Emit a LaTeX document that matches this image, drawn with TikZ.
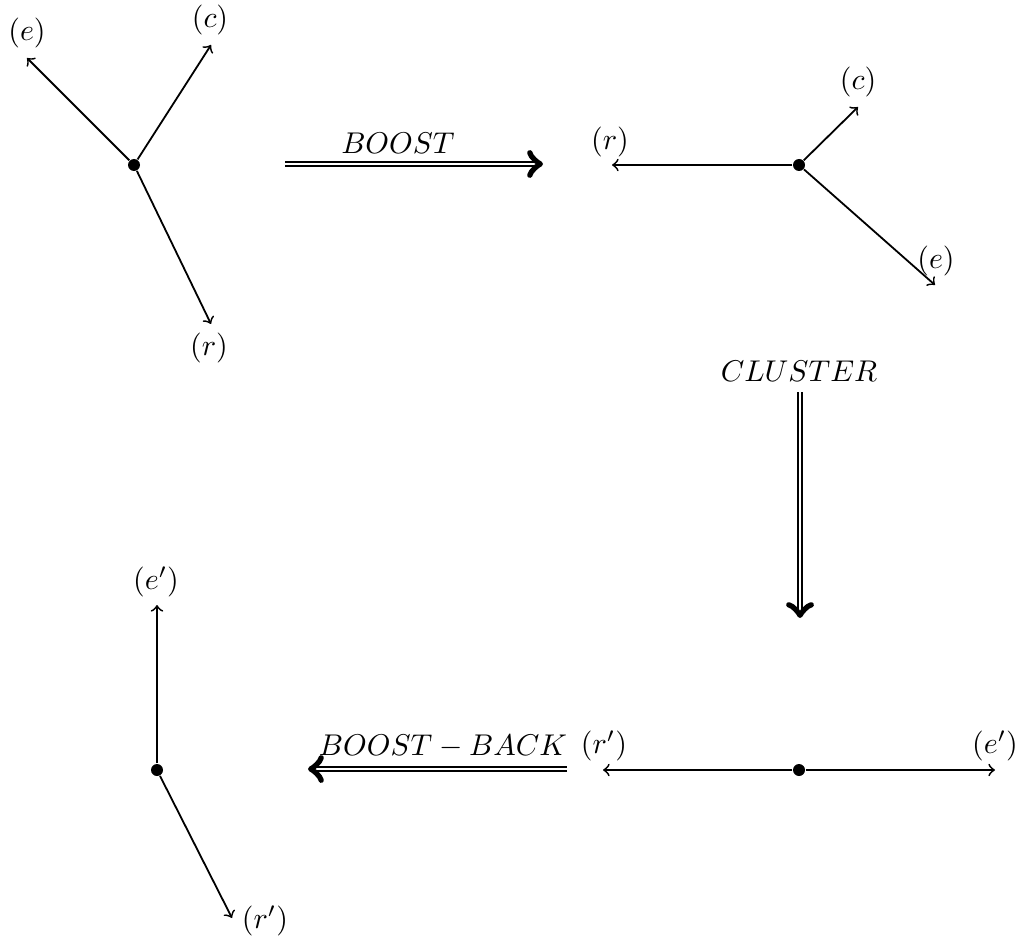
\documentclass[tikz,border=0pt]{standalone}
\begin{document}
\begin{tikzpicture}[x=0.011712cm, y=-0.011712cm,
  vertex/.style={circle, fill=black, inner sep=0pt, minimum size=4pt},
  leg/.style={->, semithick},
  move/.style={double, thick, ->},
  lbl/.style={inner sep=0pt}]
\useasboundingbox (0,0) rectangle (1022,939);

% initial three-leg configuration
\node[vertex] (A) at (134,165) {};
\coordinate (Ae) at (27,58);
\coordinate (Ac) at (211,45);
\coordinate (Ar) at (211,324);
\draw[leg] (A) -- (Ae);
\draw[leg] (A) -- (Ac);
\draw[leg] (A) -- (Ar);
\node[lbl] (Ael) at (27,33) {$(e)$};
\node[lbl] (Acl) at (210,20) {$(c)$};
\node[lbl] (Arl) at (209,348) {$(r)$};

% boost step
\coordinate (B1) at (285,164);
\coordinate (B2) at (543,164);
\draw[move] (B1) -- (B2);
\node[lbl] (Bl) at (398,143) {$BOOST$};

% boosted configuration
\node[vertex] (C) at (799,165) {};
\coordinate (Cr) at (612,165);
\coordinate (Cc) at (858,107);
\coordinate (Ce) at (935,285);
\draw[leg] (C) -- (Cr);
\draw[leg] (C) -- (Cc);
\draw[leg] (C) -- (Ce);
\node[lbl] (Crl) at (610,142) {$(r)$};
\node[lbl] (Ccl) at (858,82) {$(c)$};
\node[lbl] (Cel) at (936,261) {$(e)$};

% clustering step
\coordinate (K1) at (800,392);
\coordinate (K2) at (800,618);
\draw[move] (K1) -- (K2);
\node[lbl] (Kl) at (799,371) {$CLUSTER$};

% clustered configuration
\node[vertex] (D) at (799,770) {};
\coordinate (Dr) at (603,770);
\coordinate (De) at (995,770);
\draw[leg] (D) -- (Dr);
\draw[leg] (D) -- (De);
\node[lbl] (Drl) at (604,746) {$(r')$};
\node[lbl] (Del) at (995,746) {$(e')$};

% boost-back step
\coordinate (R1) at (567,769);
\coordinate (R2) at (308,769);
\draw[move] (R1) -- (R2);
\node[lbl] (Rl) at (443,746) {$BOOST-BACK$};

% final configuration
\node[vertex] (F) at (157,770) {};
\coordinate (Fe) at (157,605);
\coordinate (Fr) at (232,918);
\draw[leg] (F) -- (Fe);
\draw[leg] (F) -- (Fr);
\node[lbl] (Fel) at (156,582) {$(e')$};
\node[lbl] (Frl) at (265,921) {$(r')$};
\end{tikzpicture}
\end{document}
